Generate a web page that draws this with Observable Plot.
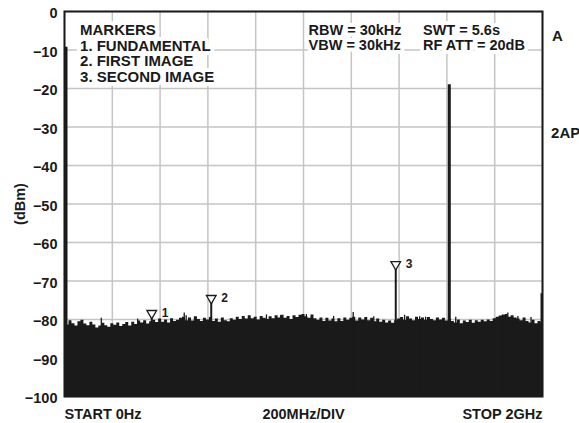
<!DOCTYPE html>
<html>
<head>
<meta charset="utf-8">
<script src="https://cdn.jsdelivr.net/npm/d3@7"></script>
<script src="https://cdn.jsdelivr.net/npm/@observablehq/plot@0.6"></script>
<style>
  html, body { margin: 0; padding: 0; background: #fff; }
  svg text { font-family: "Liberation Sans", Arial, Helvetica, sans-serif; font-weight: bold; }
</style>
</head>
<body>
<div id="chart"></div>
<script>
const sweepStepMHz = 12.5;
const noiseLevels = [
  -80.5, -81.4, -80.3, -81.1, -81.7, -80.6, -80.2, -81.2, -81.6, -80.7,
  -81.4, -82.2, -81.7, -81.0, -81.6, -82.0, -81.1, -81.5, -80.9, -81.8,
  -81.3, -80.8, -81.7, -80.7, -81.3, -80.4, -80.9, -80.3, -81.2, -80.6,
  -80.2, -80.8, -79.9, -80.7, -80.1, -80.9, -79.8, -80.5, -80.2, -79.7,
  -79.4, -80.3, -79.6, -80.4, -79.3, -80.0, -80.5, -79.7, -80.1, -79.5,
  -80.5, -79.9, -80.7, -79.6, -80.3, -80.6, -79.8, -80.2, -79.4, -80.0,
  -79.2, -79.9, -79.0, -79.8, -79.4, -80.1, -79.2, -79.7, -80.0, -79.3,
  -79.8, -79.0, -79.6, -78.9, -79.7, -79.2, -80.0, -79.0, -79.5, -78.9,
  -78.7, -79.3, -79.7, -78.8, -79.8, -80.2, -79.6, -80.5, -79.7, -80.4,
  -79.9, -80.6, -79.8, -80.5, -79.6, -80.2, -79.7, -79.4, -80.4, -79.6,
  -80.1, -79.5, -80.3, -79.7, -80.6, -79.9, -80.7, -80.2, -80.9, -80.4,
  -81.0, -80.3, -79.9, -79.5, -80.2, -79.3, -79.9, -80.3, -79.4, -80.0,
  -79.6, -80.2, -79.5, -80.0, -80.3, -79.6, -80.1, -79.7, -80.4, -79.9,
  -80.5, -80.9, -80.1, -81.1, -80.4, -80.8, -80.2, -81.0, -80.3, -80.7,
  -80.2, -80.6, -80.1, -80.5, -79.8, -79.4, -79.1, -78.9, -78.7, -79.4,
  -79.0, -79.6, -79.9, -80.3, -79.6, -80.5, -80.9, -80.2, -81.1, -80.5,
  -80.9
];

// Narrow spurs in the noise floor (MHz, dBm)
const spurFreqs  = [154, 306, 501, 544, 509, 845, 904, 1012, 1126, 1208, 1294, 1423, 1486, 1511, 1637, 1834, 1855, 1897, 1952];
const spurLevels = [-79.7, -79.9, -78.3, -79.5, -79.0, -78.8, -79.0, -78.7, -79.2, -78.2, -79.3, -78.9, -79.3, -79.4, -79.4, -78.8, -78.3, -79.2, -79.5];

// Strong lines: DC feedthrough, fundamental, stop-edge line
const lineFreqs  = [0, 1610, 2000];
const lineLevels = [-9.3, -19, -73.3];

// Markers
const markerIds    = ["1", "2", "3"];
const markerFreqs  = [365, 614, 1386];
const markerLevels = [-79.3, -75.4, -66.6];

// Axes
const yTicks = [0, -10, -20, -30, -40, -50, -60, -70, -80, -90, -100];
const xGrid  = [0, 200, 400, 600, 800, 1000, 1200, 1400, 1600, 1800, 2000];
const xLabels = ["START 0Hz", "200MHz/DIV", "STOP 2GHz"];
const xLabelPos = [0, 1000, 2000];

const markerLegend = "MARKERS\n1. FUNDAMENTAL\n2. FIRST IMAGE\n3. SECOND IMAGE";
const settingsCol1 = "RBW = 30kHz\nVBW = 30kHz";
const settingsCol2 = "SWT = 5.6s\nRF ATT = 20dB";

const trace = noiseLevels.map((v, i) => ({f: i * sweepStepMHz, v}));
const spurs = spurFreqs.map((f, i) => ({f, v: spurLevels[i]}));
const lines = lineFreqs.map((f, i) => ({f, v: lineLevels[i]}));
const markers = markerIds.map((id, i) => ({id, f: markerFreqs[i], v: markerLevels[i]}));

const ink = "#1a1a1a";

const chart = Plot.plot({
  width: 579,
  height: 423,
  marginLeft: 64,
  marginRight: 37,
  marginTop: 11,
  marginBottom: 27,
  x: {domain: [0, 2000]},
  y: {domain: [-100, 0]},
  marks: [
    Plot.gridX(xGrid, {stroke: "#c4c4c4", strokeOpacity: 1, strokeWidth: 1.5}),
    Plot.gridY(yTicks, {stroke: "#c4c4c4", strokeOpacity: 1, strokeWidth: 1.5}),
    Plot.areaY(trace, {x: "f", y1: -100, y2: "v", curve: "step", fill: ink}),
    Plot.ruleX(spurs, {x: "f", y1: -100, y2: "v", stroke: ink, strokeWidth: 1.3}),
    Plot.ruleX(lines.slice(0, 1), {x: "f", y1: -100, y2: "v", stroke: ink, strokeWidth: 3, dx: 1.5}),
    Plot.ruleX(lines.slice(1, 2), {x: "f", y1: -100, y2: "v", stroke: ink, strokeWidth: 3}),
    Plot.ruleX(lines.slice(2), {x: "f", y1: -100, y2: "v", stroke: ink, strokeWidth: 2, dx: -1}),
    Plot.ruleX(markers, {x: "f", y1: -100, y2: "v", stroke: ink, strokeWidth: 2}),
    Plot.dot(markers, {x: "f", y: "v", symbol: "triangle", rotate: 180, r: 3.6, dy: -3.5, stroke: ink, strokeWidth: 1.3, fill: "white"}),
    Plot.text(markers, {x: "f", y: "v", text: "id", dx: 10, dy: -4, textAnchor: "start", fontSize: 12, fill: ink}),
    Plot.text([markerLegend], {x: 65, y: -3.2, text: d => d, textAnchor: "start", lineAnchor: "top", lineHeight: 1.05, fontSize: 15, fill: ink, stroke: "white", strokeWidth: 8, paintOrder: "stroke"}),
    Plot.text([settingsCol1], {x: 1021, y: -3.2, text: d => d, textAnchor: "start", lineAnchor: "top", lineHeight: 1.05, fontSize: 14.5, fill: ink, stroke: "white", strokeWidth: 8, paintOrder: "stroke"}),
    Plot.text([settingsCol2], {x: 1500, y: -3.2, text: d => d, textAnchor: "start", lineAnchor: "top", lineHeight: 1.05, fontSize: 14.5, fill: ink, stroke: "white", strokeWidth: 8, paintOrder: "stroke"}),
    Plot.text(["A"], {x: 2040, y: -4.9, text: d => d, textAnchor: "start", lineAnchor: "top", fontSize: 15, fill: ink}),
    Plot.text(["2AP"], {x: 2036, y: -30, text: d => d, textAnchor: "start", lineAnchor: "top", fontSize: 15, fill: ink}),
    Plot.frame({stroke: ink, strokeWidth: 2}),
    Plot.axisY({ticks: yTicks, tickSize: 0, tickPadding: 7, dy: 2, fontSize: 14.5, label: "(dBm)", labelAnchor: "center", labelArrow: "none", labelOffset: 50, fill: ink}),
    Plot.axisX({ticks: [xLabelPos[0]], tickSize: 0, tickPadding: 12, tickFormat: () => xLabels[0], textAnchor: "start", fontSize: 14.5, label: null, fill: ink}),
    Plot.axisX({ticks: [xLabelPos[1]], tickSize: 0, tickPadding: 12, tickFormat: () => xLabels[1], textAnchor: "middle", fontSize: 14.5, label: null, fill: ink}),
    Plot.axisX({ticks: [xLabelPos[2]], tickSize: 0, tickPadding: 12, tickFormat: () => xLabels[2], textAnchor: "end", fontSize: 14.5, label: null, fill: ink})
  ]
});
document.getElementById("chart").appendChild(chart);
</script>
</body>
</html>
